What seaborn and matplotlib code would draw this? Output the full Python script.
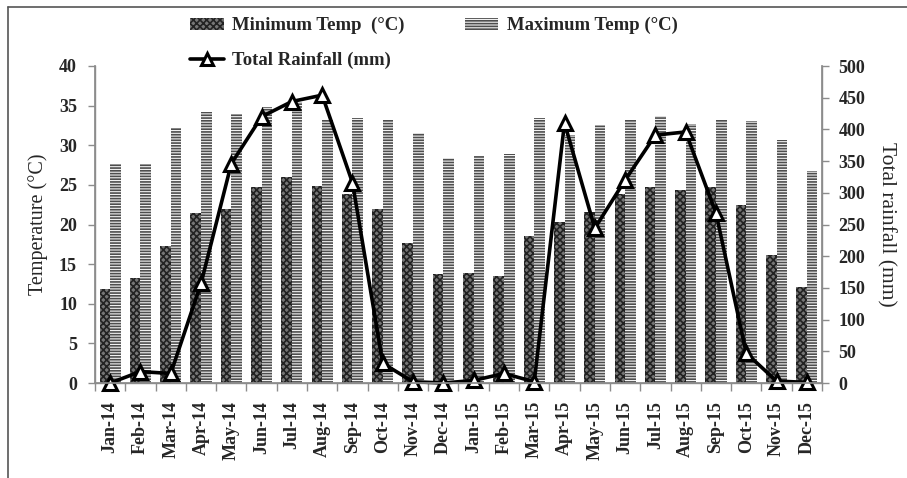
import matplotlib
matplotlib.use("Agg")
import matplotlib.pyplot as plt
from matplotlib.lines import Line2D
from matplotlib.patches import Patch
import seaborn as sns
import pandas as pd
import numpy as np

months = ["Jan-14", "Feb-14", "Mar-14", "Apr-14", "May-14", "Jun-14", "Jul-14", "Aug-14",
          "Sep-14", "Oct-14", "Nov-14", "Dec-14", "Jan-15", "Feb-15", "Mar-15", "Apr-15",
          "May-15", "Jun-15", "Jul-15", "Aug-15", "Sep-15", "Oct-15", "Nov-15", "Dec-15"]
temp_min = [11.8, 13.3, 17.3, 21.5, 21.9, 24.7, 26.0, 24.9, 23.9, 22.0, 17.7, 13.8,
            13.9, 13.5, 18.6, 20.3, 21.6, 23.9, 24.7, 24.4, 24.7, 22.4, 16.1, 12.1]
temp_max = [27.6, 27.6, 32.2, 34.2, 33.9, 34.8, 35.5, 33.2, 33.5, 33.2, 31.5, 28.4,
            28.6, 28.9, 33.5, 31.3, 32.5, 33.2, 33.7, 32.7, 33.2, 33.0, 30.6, 26.7]
rainfall = [0, 18, 15, 157, 346, 420, 444, 454, 316, 31, 2, 0,
            4, 15, 2, 410, 244, 320, 391, 396, 268, 47, 3, 1]

lbl_min = "Minimum Temp  (\u00b0C)"
lbl_max = "Maximum Temp (\u00b0C)"
lbl_rain = "Total Rainfall (mm)"

sns.set_theme(style="white")
plt.rcParams["font.family"] = ["Liberation Serif", "DejaVu Serif"]
plt.rcParams["hatch.linewidth"] = 1.2

temps = pd.DataFrame({
    "Month": months * 2,
    "Temp": temp_min + temp_max,
    "Series": [lbl_min] * len(months) + [lbl_max] * len(months),
})
rain_df = pd.DataFrame({"Month": months, "Rain": rainfall, "pos": np.arange(len(months))})

# fill, hatch and hatch colour of each temperature series
min_style = ("#767676", "xxxxx", "#222222")
max_style = ("#f2f2f2", "------", "#4e4e4e")

fig = plt.figure(figsize=(9.07, 4.78), dpi=100)
ax = fig.add_axes([95 / 907, 1 - 383 / 478, (822 - 95) / 907, (383 - 66) / 478])

sns.barplot(data=temps, x="Month", y="Temp", hue="Series", order=months,
            hue_order=[lbl_min, lbl_max], palette=[min_style[0], max_style[0]],
            saturation=1, width=0.7, gap=0, linewidth=0, legend=False, ax=ax,
            errorbar=None)

n = len(months)
for i, patch in enumerate(ax.patches[:2 * n]):
    _, h, c = min_style if i < n else max_style
    patch.set_hatch(h)
    patch.set_edgecolor(c)
    patch.set_linewidth(0)

ax.set_xlim(-0.5, n - 0.5)
ax.set_ylim(0, 40)
ax.set_yticks(np.arange(0, 41, 5))
ax.set_xlabel("")
ax.set_ylabel("Temperature (\u00b0C)", fontsize=14.5, labelpad=8)

spine_c = "#8c8c8c"
for s in ["left", "bottom", "right"]:
    ax.spines[s].set_color(spine_c)
    ax.spines[s].set_linewidth(1.0)
ax.spines["top"].set_visible(False)

ax.set_xticks(np.arange(n))
ax.set_xticklabels(months, rotation=90, fontsize=13, fontweight="bold")
ax.set_xticks(np.arange(n + 1) - 0.5, minor=True)
ax.tick_params(axis="x", which="major", length=0, pad=13)
ax.tick_params(axis="x", which="minor", length=6, color=spine_c, width=1, bottom=True)
ax.tick_params(axis="y", which="major", length=5, color=spine_c, width=1, left=True,
               pad=8, labelsize=13)
for t in ax.get_yticklabels():
    t.set_fontweight("bold")

ax2 = ax.twinx()
sns.lineplot(data=rain_df, x="pos", y="Rain", color="black", linewidth=2.6,
             marker="^", markersize=10, markerfacecolor="white",
             markeredgecolor="black", markeredgewidth=2.2, ax=ax2, clip_on=False)
ax2.set_ylim(0, 500)
ax2.set_yticks(np.arange(0, 501, 50))
ax2.set_xlim(-0.5, n - 0.5)
ax2.set_xlabel("")
ax2.set_ylabel("Total rainfall (mm)", fontsize=15.5, rotation=270, labelpad=22)
for s in ["left", "bottom", "right"]:
    ax2.spines[s].set_color(spine_c)
ax2.spines["top"].set_visible(False)
ax2.tick_params(axis="y", which="major", length=5, color=spine_c, width=1, right=True,
                pad=7, labelsize=13)
for t in ax2.get_yticklabels():
    t.set_fontweight("bold")

handles = [
    Patch(facecolor=min_style[0], edgecolor=min_style[2], hatch=min_style[1], linewidth=0),
    Line2D([0], [0], color="black", linewidth=2.6, marker="^", markersize=9,
           markerfacecolor="white", markeredgecolor="black", markeredgewidth=2.2),
    Patch(facecolor=max_style[0], edgecolor=max_style[2], hatch=max_style[1], linewidth=0),
]
fig.legend(handles, [lbl_min, lbl_rain, lbl_max], ncol=2, loc="upper left",
           bbox_to_anchor=(190 / 907, 1 - 17 / 478), frameon=False,
           prop={"weight": "bold", "size": 13.5}, handlelength=1.8, handleheight=0.6,
           handletextpad=0.45, labelspacing=0.95, columnspacing=3.2, borderaxespad=0,
           borderpad=0)

# frame lines along the top and left edges of the figure
fig.add_artist(Line2D([8 / 907, 1.0], [1 - 7 / 478, 1 - 7 / 478], color="#555555",
                      linewidth=1.2, transform=fig.transFigure))
fig.add_artist(Line2D([8 / 907, 8 / 907], [0, 1 - 7 / 478], color="#555555",
                      linewidth=1.2, transform=fig.transFigure))

fig.savefig("out.png", dpi=100)
